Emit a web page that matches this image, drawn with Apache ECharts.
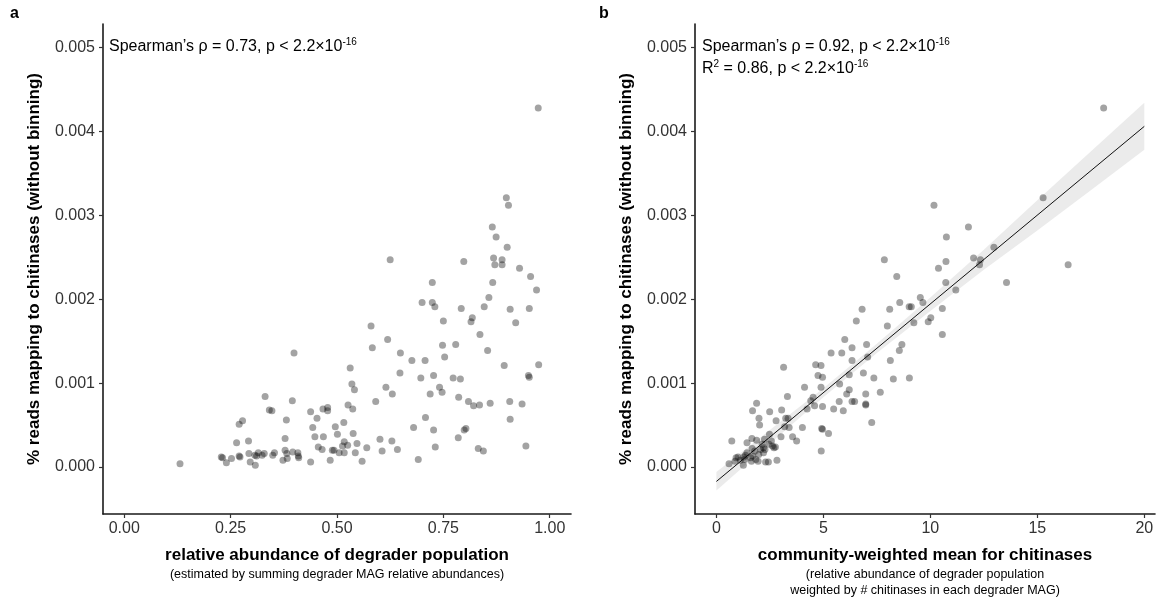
<!DOCTYPE html>
<html>
<head>
<meta charset="utf-8">
<script src="https://cdn.jsdelivr.net/npm/echarts@6/dist/echarts.min.js"></script>
<style>
html, body { margin: 0; padding: 0; background: #ffffff; }
#chart { width: 1159px; height: 601px; }
</style>
</head>
<body>
<div id="chart"></div>
<script>
// Panel a: [relative abundance of degrader population, % reads mapping to chitinases]
const abundancePoints = [
  [0.973,0.00428],[0.898,0.00321],[0.903,0.00312],[0.865,0.00286],[0.874,0.00274],[0.900,0.00262],
  [0.625,0.00247],[0.798,0.00245],[0.868,0.00249],[0.888,0.00247],[0.871,0.00241],[0.888,0.00241],
  [0.929,0.00237],[0.955,0.00227],[0.724,0.00220],[0.866,0.00220],[0.969,0.00211],[0.857,0.00202],
  [0.700,0.00196],[0.724,0.00196],[0.730,0.00191],[0.792,0.00189],[0.846,0.00191],[0.907,0.00188],
  [0.952,0.00189],[0.750,0.00174],[0.818,0.00178],[0.815,0.00173],[0.920,0.00172],[0.580,0.00168],
  [0.836,0.00158],[0.619,0.00152],[0.748,0.00145],[0.779,0.00146],[0.583,0.00142],[0.854,0.00139],
  [0.399,0.00136],[0.649,0.00136],[0.753,0.00131],[0.676,0.00127],[0.707,0.00127],[0.893,0.00121],
  [0.974,0.00122],[0.531,0.00118],[0.648,0.00112],[0.727,0.00109],[0.697,0.00106],[0.773,0.00106],
  [0.790,0.00105],[0.950,0.00109],[0.952,0.00107],[0.535,0.00099],[0.541,0.00092],[0.615,0.00095],
  [0.741,0.00095],[0.747,0.00089],[0.630,0.00087],[0.719,0.00087],[0.786,0.00083],[0.331,0.00084],
  [0.395,0.00079],[0.591,0.00078],[0.809,0.00078],[0.821,0.00073],[0.835,0.00074],[0.860,0.00076],
  [0.906,0.00078],[0.935,0.00075],[0.526,0.00074],[0.537,0.00069],[0.341,0.00068],[0.347,0.00067],
  [0.438,0.00066],[0.467,0.00069],[0.478,0.00071],[0.478,0.00067],[0.453,0.00058],[0.381,0.00056],
  [0.708,0.00059],[0.907,0.00057],[0.278,0.00055],[0.270,0.00051],[0.516,0.00053],[0.443,0.00047],
  [0.496,0.00048],[0.680,0.00047],[0.727,0.00044],[0.803,0.00046],[0.799,0.00044],[0.538,0.00040],
  [0.501,0.00039],[0.378,0.00034],[0.448,0.00036],[0.468,0.00036],[0.785,0.00035],[0.264,0.00029],
  [0.292,0.00031],[0.517,0.00030],[0.525,0.00026],[0.601,0.00033],[0.629,0.00031],[0.547,0.00028],
  [0.944,0.00025],[0.456,0.00024],[0.513,0.00025],[0.570,0.00023],[0.731,0.00024],[0.832,0.00022],
  [0.844,0.00019],[0.465,0.00021],[0.493,0.00020],[0.489,0.00020],[0.505,0.00017],[0.517,0.00017],
  [0.543,0.00017],[0.606,0.00019],[0.642,0.00021],[0.378,0.00020],[0.353,0.00017],[0.382,0.00016],
  [0.396,0.00018],[0.408,0.00017],[0.409,0.00013],[0.329,0.00016],[0.315,0.00017],[0.307,0.00014],
  [0.311,0.00013],[0.293,0.00016],[0.324,0.00014],[0.349,0.00014],[0.270,0.00013],[0.272,0.00012],
  [0.252,0.00010],[0.228,0.00012],[0.231,0.00011],[0.240,0.00005],[0.296,0.00006],[0.308,0.00002],
  [0.373,0.00008],[0.383,0.00010],[0.410,0.00011],[0.438,0.00006],[0.484,0.00008],[0.559,0.00007],
  [0.691,0.00009],[0.131,0.00004]
];

// Panel b: [community-weighted mean for chitinases, % reads mapping to chitinases]
const cwmPoints = [
  [18.10,0.00428],[10.17,0.00312],[15.27,0.00321],[11.78,0.00286],[10.75,0.00274],[12.97,0.00262],
  [7.85,0.00247],[10.73,0.00245],[12.02,0.00249],[12.34,0.00247],[12.30,0.00241],[10.38,0.00237],
  [8.43,0.00227],[16.44,0.00241],[10.72,0.00220],[13.56,0.00220],[11.19,0.00211],[9.53,0.00202],
  [8.10,0.00188],[8.57,0.00196],[9.01,0.00191],[9.11,0.00191],[9.65,0.00196],[6.81,0.00188],
  [10.56,0.00189],[10.02,0.00178],[6.54,0.00174],[9.23,0.00172],[9.90,0.00173],[7.99,0.00168],
  [10.56,0.00158],[6.00,0.00152],[7.02,0.00146],[8.67,0.00146],[8.55,0.00139],[6.34,0.00142],
  [5.36,0.00136],[5.86,0.00136],[7.07,0.00131],[6.34,0.00127],[8.13,0.00127],[4.64,0.00122],
  [3.14,0.00119],[4.89,0.00121],[4.75,0.00109],[4.96,0.00107],[6.21,0.00110],[6.87,0.00112],
  [7.36,0.00106],[8.27,0.00105],[9.02,0.00106],[4.12,0.00095],[4.89,0.00095],[5.76,0.00099],
  [6.21,0.00092],[6.09,0.00087],[6.98,0.00087],[7.66,0.00089],[3.32,0.00084],[4.52,0.00083],
  [4.41,0.00079],[1.88,0.00076],[5.74,0.00078],[6.34,0.00078],[6.46,0.00078],[6.98,0.00075],
  [6.98,0.00074],[4.59,0.00073],[4.96,0.00072],[4.24,0.00069],[1.69,0.00067],[3.05,0.00068],
  [2.49,0.00066],[5.48,0.00069],[5.93,0.00067],[1.99,0.00058],[3.24,0.00058],[3.35,0.00058],
  [2.79,0.00055],[7.26,0.00053],[2.02,0.00050],[3.19,0.00048],[4.02,0.00047],[3.40,0.00047],
  [4.92,0.00046],[4.96,0.00045],[5.24,0.00040],[2.48,0.00039],[3.02,0.00036],[3.56,0.00036],
  [0.72,0.00031],[3.75,0.00031],[1.66,0.00034],[2.25,0.00033],[2.57,0.00031],[1.43,0.00029],
  [2.76,0.00024],[2.69,0.00023],[4.90,0.00019],[0.59,0.00004],[1.26,0.00002],[2.83,0.00008],
  [2.30,0.00006],[2.43,0.00006],[2.20,0.00017],[0.92,0.00011],[1.01,0.00012],[0.87,0.00007],
  [1.12,0.00008],[1.28,0.00012],[1.36,0.00014],[1.43,0.00017],[1.32,0.00009],[1.60,0.00011],
  [1.67,0.00022],[1.79,0.00019],[1.70,0.00013],[1.84,0.00009],[1.98,0.00015],[2.07,0.00021],
  [2.14,0.00027],[2.20,0.00023],[2.27,0.00021],[1.88,0.00032],[2.46,0.00027],[2.62,0.00025],
  [1.95,0.00007],[1.64,0.00007]
];

// Linear fit for panel b and its 95% confidence band
const fitLine = [[0, -0.000172], [20, 0.00406]];
const bandX     = [0, 2.5, 5, 7.5, 10, 12.5, 15, 17.5, 20];
const bandLower = [-0.00028, 0.00028, 0.00083, 0.00136, 0.00186, 0.00235, 0.00282, 0.00330, 0.00378];
const bandUpper = [-0.00006, 0.00044, 0.00094, 0.00147, 0.00202, 0.00259, 0.00318, 0.00376, 0.00434];

// Tick positions
const xTicksA = [0, 0.25, 0.5, 0.75, 1];
const xTicksB = [0, 5, 10, 15, 20];
const yTicks  = [0, 0.001, 0.002, 0.003, 0.004, 0.005];

const FONT = '"Liberation Sans", Arial, Helvetica, sans-serif';
const POINT = 'rgba(0,0,0,0.45)';

const chart = echarts.init(document.getElementById('chart'), null, { renderer: 'canvas' });

function xAxisDef(gridIndex, min, max, ticks, digits, name) {
  return {
    type: 'value', gridIndex, min, max, name,
    nameLocation: 'middle', nameGap: 33,
    nameTextStyle: { fontFamily: FONT, fontSize: 17, fontWeight: 'bold', color: '#000' },
    splitLine: { show: false },
    axisLine: { onZero: false, lineStyle: { color: '#1a1a1a', width: 1.6 } },
    axisTick: { show: true, length: 4, customValues: ticks, lineStyle: { color: '#333', width: 1.2 } },
    axisLabel: {
      customValues: ticks, margin: 7, fontFamily: FONT, fontSize: 16, color: '#333',
      formatter: v => Number(v).toFixed(digits)
    }
  };
}

function yAxisDef(gridIndex) {
  return {
    type: 'value', gridIndex, min: -0.00056, max: 0.00528,
    name: '% reads mapping to chitinases (without binning)',
    nameLocation: 'middle', nameRotate: 90, nameGap: 60,
    nameTextStyle: { fontFamily: FONT, fontSize: 17, fontWeight: 'bold', color: '#000' },
    splitLine: { show: false },
    axisLine: { onZero: false, lineStyle: { color: '#1a1a1a', width: 1.6 } },
    axisTick: { show: true, length: 4, customValues: yTicks, lineStyle: { color: '#333', width: 1.2 } },
    axisLabel: {
      customValues: yTicks, margin: 8, fontFamily: FONT, fontSize: 16, color: '#333',
      formatter: v => Number(v).toFixed(3)
    }
  };
}

const supRich = {
  base: { fontFamily: FONT, fontSize: 16, color: '#000', lineHeight: 20 },
  sup: { fontFamily: FONT, fontSize: 10, color: '#000', verticalAlign: 'top', lineHeight: 20, padding: [0, 0, 9, 0] }
};

function noteText(x, y, text) {
  return {
    type: 'text', left: x, top: y, silent: true,
    style: { text, rich: supRich, fill: '#000', font: '16px ' + FONT }
  };
}

function plainText(x, y, text, size, weight, align) {
  return {
    type: 'text', x, y, silent: true,
    style: {
      text, fill: '#000', align: align || 'left', verticalAlign: 'middle',
      font: (weight || 'normal') + ' ' + size + 'px ' + FONT
    }
  };
}

const option = {
  animation: false,
  backgroundColor: '#ffffff',
  grid: [
    { left: 103, top: 24, width: 468, height: 490 },
    { left: 695, top: 24, width: 460, height: 490 }
  ],
  xAxis: [
    xAxisDef(0, -0.05, 1.05, xTicksA, 2, 'relative abundance of degrader population'),
    xAxisDef(1, -1, 20.5, xTicksB, 0, 'community-weighted mean for chitinases')
  ],
  yAxis: [yAxisDef(0), yAxisDef(1)],
  series: [
    {
      type: 'scatter', xAxisIndex: 0, yAxisIndex: 0, data: abundancePoints,
      symbolSize: 7, itemStyle: { color: POINT }, emphasis: { disabled: true }, z: 3
    },
    {
      type: 'custom', xAxisIndex: 1, yAxisIndex: 1, data: [[0, 0]], silent: true, z: 1,
      renderItem: function (params, api) {
        const upper = bandX.map((x, i) => api.coord([x, bandUpper[i]]));
        const lower = bandX.map((x, i) => api.coord([x, bandLower[i]])).reverse();
        return { type: 'polygon', shape: { points: upper.concat(lower) }, style: { fill: '#ebebeb' } };
      }
    },
    {
      type: 'line', xAxisIndex: 1, yAxisIndex: 1, data: fitLine, showSymbol: false,
      lineStyle: { color: '#111', width: 1 }, silent: true, z: 2
    },
    {
      type: 'scatter', xAxisIndex: 1, yAxisIndex: 1, data: cwmPoints,
      symbolSize: 7, itemStyle: { color: POINT }, emphasis: { disabled: true }, z: 3
    }
  ],
  graphic: [
    plainText(10, 14, 'a', 16, 'bold'),
    plainText(599, 14, 'b', 16, 'bold'),
    noteText(109, 37, '{base|Spearman\u2019s \u03c1 = 0.73, p < 2.2\u00d710}{sup|-16}'),
    noteText(702, 37, '{base|Spearman\u2019s \u03c1 = 0.92, p < 2.2\u00d710}{sup|-16}'),
    noteText(702, 59, '{base|R}{sup|2}{base| = 0.86, p < 2.2\u00d710}{sup|-16}'),
    plainText(337, 575, '(estimated by summing degrader MAG relative abundances)', 12.5, 'normal', 'center'),
    plainText(925, 575, '(relative abundance of degrader population', 12.5, 'normal', 'center'),
    plainText(925, 591, 'weighted by # chitinases in each degrader MAG)', 12.5, 'normal', 'center')
  ]
};

chart.setOption(option);
</script>
</body>
</html>
